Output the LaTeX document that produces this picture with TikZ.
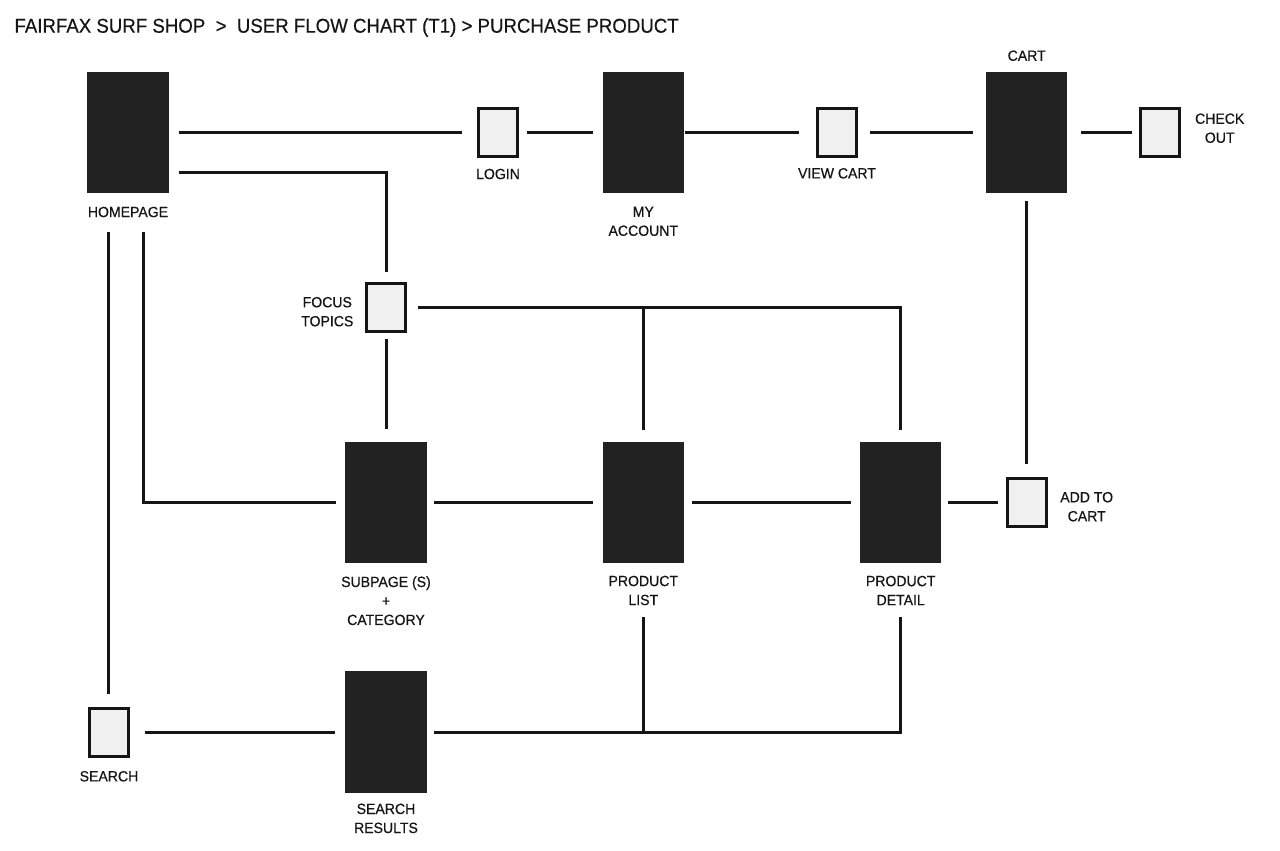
\documentclass[tikz,border=0pt]{standalone}
\usepackage{fontspec}
\setmainfont{Liberation Sans}
\newfontfamily\lblfont[FakeStretch=0.95,FakeBold=0.5]{Liberation Sans}
\newfontfamily\ttlfont[FakeStretch=0.933,FakeBold=0.4]{Liberation Sans}
\usetikzlibrary{calc}
\definecolor{boxdark}{HTML}{222222}
\definecolor{boxlight}{HTML}{F0F0F0}
\definecolor{ink}{HTML}{151515}
\begin{document}
\begin{tikzpicture}[x=1pt,y=-1pt,
  page/.style={rectangle, fill=boxdark, minimum width=81.3pt, minimum height=121.3pt, inner sep=0pt, outer sep=0pt},
  action/.style={rectangle, fill=boxlight, draw=ink, line width=3pt, minimum width=39pt, minimum height=48pt, inner sep=0pt, outer sep=1.5pt},
  lbl/.style={font=\lblfont\fontsize{14.8}{19}\selectfont, text=ink, align=center, inner sep=0pt},
  conn/.style={draw=ink, line width=3pt, line join=miter}]
\fill[white] (0,0) rectangle (1280,851);
\useasboundingbox (0,0) rectangle (1280,851);

% title
\node[anchor=base west, font=\ttlfont\fontsize{20}{24}\selectfont, text=ink, inner sep=0pt] (title) at (14.3,32.7)
  {FAIRFAX SURF SHOP\ \ >\ \ USER FLOW CHART (T1) > PURCHASE PRODUCT};

% pages
\node[page] (home) at (128,132.7) {};
\node[page] (myacc) at (643.3,132.7) {};
\node[page] (cart) at (1026.7,132.7) {};
\node[page] (sub) at (386,502.7) {};
\node[page] (plist) at (643.3,502.7) {};
\node[page] (pdetail) at (900.7,502.7) {};
\node[page] (sres) at (386,732) {};

% actions
\node[action] (login) at (498,132.7) {};
\node[action] (viewcart) at (837,132.7) {};
\node[action] (checkout) at (1160,132.7) {};
\node[action] (focus) at (386,307.7) {};
\node[action] (addcart) at (1026.7,502.7) {};
\node[action] (search) at (108.7,732) {};

% labels
\node[lbl] (homeL) at (128,212) {HOMEPAGE};
\node[lbl] (loginL) at (498,174) {LOGIN};
\node[lbl] (myaccL) at (643.3,221.3) {MY\\ACCOUNT};
\node[lbl] (viewcartL) at (837,173.3) {VIEW CART};
\node[lbl] (cartL) at (1026.7,55.7) {CART};
\node[lbl] (checkoutL) at (1219.7,128.2) {CHECK\\OUT};
\node[lbl] (focusL) at (327.3,311.7) {FOCUS\\TOPICS};
\node[lbl] (subL) at (386,600.7) {SUBPAGE (S)\\+\\CATEGORY};
\node[lbl] (plistL) at (643.3,590.5) {PRODUCT\\LIST};
\node[lbl] (pdetailL) at (900.7,590.5) {PRODUCT\\DETAIL};
\node[lbl] (addcartL) at (1086.7,506.7) {ADD TO\\CART};
\node[lbl] (searchL) at (109,776.3) {SEARCH};
\node[lbl] (sresL) at (386,818.4) {SEARCH\\RESULTS};

% connectors
\draw[conn] ($(home.east)+(10,0)$) -- ($(login.west)+(-15,0)$);
\draw[conn] ($(login.east)+(8,0)$) -- ($(myacc.west)+(-10,0)$);
\draw[conn] ($(myacc.east)+(1,0)$) -- ($(viewcart.west)+(-17,0)$);
\draw[conn] ($(viewcart.east)+(12,0)$) -- ($(cart.west)+(-13,0)$);
\draw[conn] ($(cart.east)+(14,0)$) -- ($(checkout.west)+(-7,0)$);
\draw[conn] ($(home.east)+(10,40)$) -| ($(focus.north)+(0,-10)$);
\draw[conn] ($(focus.south)+(0,6)$) -- ($(sub.north)+(0,-12.7)$);
\draw[conn] ($(focus.east)+(11,0)$) -| ($(pdetail.north)+(0,-12)$);
\draw[conn] (plist.north |- focus.east) -- ($(plist.north)+(0,-12)$);
\draw[conn] ($(home.south)+(15.3,38.7)$) |- ($(sub.west)+(-9.6,0)$);
\draw[conn] ($(home.south)+(-19.3,38.7)$) -- ($(search.north)+(0,-13)$);
\draw[conn] ($(sub.east)+(7.6,0)$) -- ($(plist.west)+(-9.7,0)$);
\draw[conn] ($(plist.east)+(7.7,0)$) -- ($(pdetail.west)+(-9,0)$);
\draw[conn] ($(pdetail.east)+(6.3,0)$) -- ($(addcart.west)+(-7.4,0)$);
\draw[conn] ($(cart.south)+(0,7.4)$) -- ($(addcart.north)+(0,-13.4)$);
\draw[conn] ($(search.east)+(15,0)$) -- ($(sres.west)+(-10,0)$);
\draw[conn] ($(sres.east)+(7.3,0)$) -| ($(pdetail.south)+(0,54)$);
\draw[conn] ($(plist.south)+(0,54)$) -- (plist.south |- sres.east);
\end{tikzpicture}
\end{document}
